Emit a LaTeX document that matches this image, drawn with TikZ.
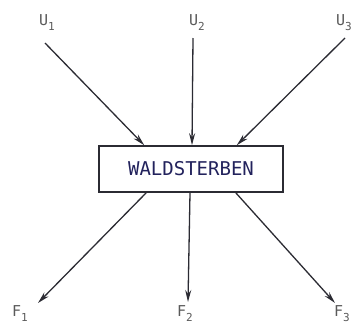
\documentclass[tikz,border=0pt]{standalone}
\usepackage{fontspec}
\newfontfamily\plotfont{DejaVu Sans Mono}
\usetikzlibrary{arrows.meta}
\definecolor{ink}{HTML}{2B2B33}
\definecolor{pencil}{HTML}{5A5A5A}
\newcommand{\plotlab}[2]{#1\raisebox{-5pt}{\fontsize{11}{11}\selectfont #2}}
\tikzset{
  boxnode/.style={draw=ink,line width=1.6pt,minimum width=184pt,minimum height=46pt,
    inner sep=0pt,font=\plotfont\fontsize{19}{19}\selectfont,text=ink!80!blue},
  labnode/.style={font=\plotfont\fontsize{15}{15}\selectfont,text=pencil,inner sep=1pt},
  flow/.style={-{Stealth[length=12pt,width=6pt]},line width=1.3pt,draw=ink}
}
\begin{document}
\begin{tikzpicture}[x=1pt,y=-1pt]
\useasboundingbox (0,0) rectangle (355,327);
    % the box in the middle
    \node[boxnode] (ws) at (191,169) {WALDSTERBEN};
    %
    \node[labnode] (u1) at (47,23) {\plotlab{U}{1}};
    \node[labnode] (u2) at (197,23) {\plotlab{U}{2}};
    \node[labnode] (u3) at (344,23) {\plotlab{U}{3}};
    \node[labnode] (f1) at (20,314) {\plotlab{F}{1}};
    \node[labnode] (f2) at (185,314) {\plotlab{F}{2}};
    \node[labnode] (f3) at (342,314) {\plotlab{F}{3}};
    %
    \coordinate (s1) at (45,43);
    \coordinate (s2) at (193,38);
    \coordinate (s3) at (345,38);
    \coordinate (e1) at (38,303);
    \coordinate (e2) at (188,302);
    \coordinate (e3) at (335,303);
    %
    \draw[flow] (s1) -- ([xshift=46pt]ws.north west);
    \draw[flow] (s2) -- ([xshift=1pt]ws.north);
    \draw[flow] (s3) -- ([xshift=-47pt]ws.north east);
    %
    \draw[flow] ([xshift=48pt]ws.south west) -- (e1);
    \draw[flow] ([xshift=-1pt]ws.south) -- (e2);
    \draw[flow] ([xshift=-48pt]ws.south east) -- (e3);
\end{tikzpicture}
\end{document}
